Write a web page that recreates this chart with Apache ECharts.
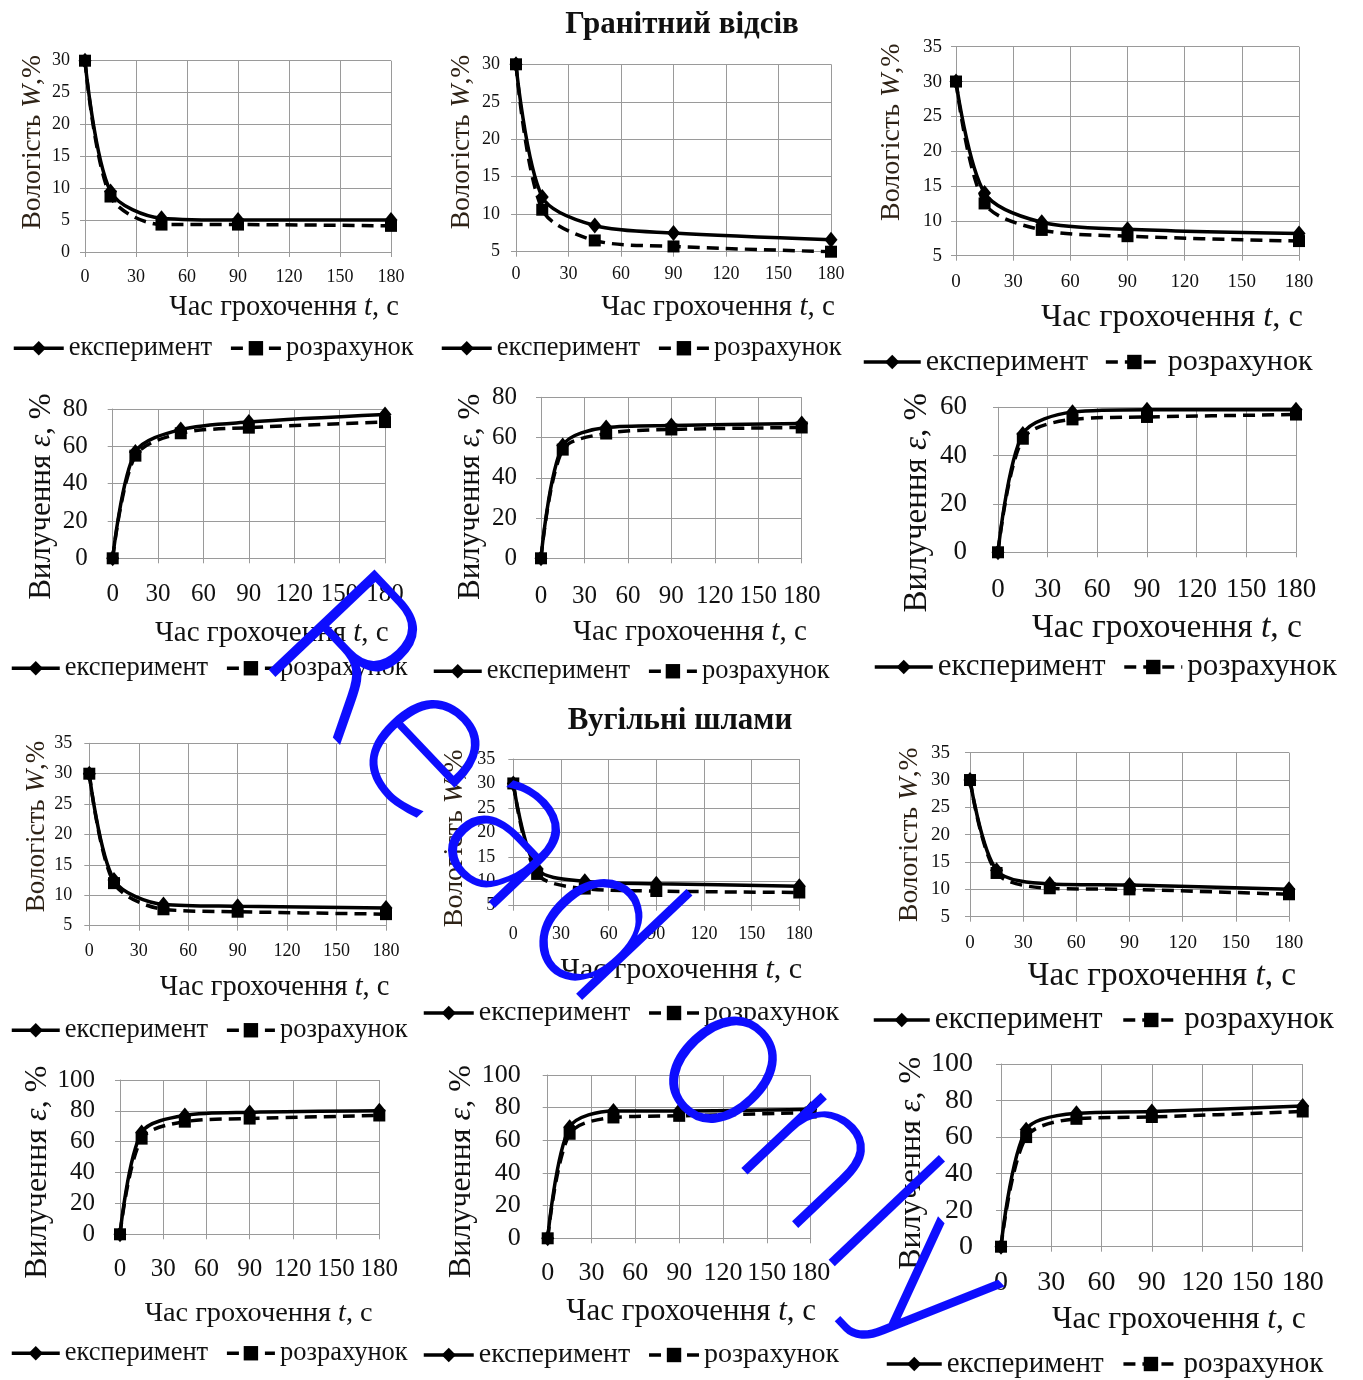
<!DOCTYPE html>
<html><head><meta charset="utf-8">
<script src="https://cdn.jsdelivr.net/npm/echarts@6/dist/echarts.min.js"></script>
<style>html,body{margin:0;padding:0;background:#fff}#c{width:1363px;height:1380px}</style>
</head><body><div id="c"></div>
<script>
// ---------- DATA ----------
const timeSec = [0, 15, 45, 90, 180];
const xTicks = [0, 30, 60, 90, 120, 150, 180];
const seriesNames = ['експеримент', 'розрахунок'];
const titleGranite = 'Гранітний відсів';
const titleCoal = 'Вугільні шлами';
const yNameW = 'Вологість {i|W},%';
const yNameE = 'Вилучення {i|ε}, %';
const xNameT = 'Час грохочення {i|t}, с';
const watermarkText = 'Read only';

// Гранітний відсів — вологість W, %
const gW1Exp = [30, 9.5, 5.3, 5.0, 5.0];
const gW1Calc = [30, 8.7, 4.3, 4.3, 4.1];
const gW2Exp = [30, 12.3, 8.5, 7.5, 6.6];
const gW2Calc = [30, 10.6, 6.5, 5.7, 5.0];
const gW3Exp = [30, 14.0, 9.8, 8.8, 8.2];
const gW3Calc = [30, 12.5, 8.7, 7.8, 7.1];
// Гранітний відсів — вилучення ε, %
const gE1Exp = [0, 57, 69, 73, 77];
const gE1Calc = [0, 55, 67, 70, 73];
const gE2Exp = [0, 56, 65, 66, 67];
const gE2Calc = [0, 54, 62, 64, 65];
const gE3Exp = [0, 49, 58, 59, 59];
const gE3Calc = [0, 47, 55, 56, 57];
// Вугільні шлами — вологість W, %
const cW1Exp = [30, 12.5, 8.5, 8.2, 7.9];
const cW1Calc = [30, 12.0, 7.7, 7.3, 6.9];
const cW2Exp = [30, 12.5, 10.0, 9.5, 9.0];
const cW2Calc = [30, 11.5, 8.5, 8.0, 7.7];
const cW3Exp = [30, 13.5, 11.0, 10.8, 10.0];
const cW3Calc = [30, 13.0, 10.2, 10.0, 9.1];
// Вугільні шлами — вилучення ε, %
const cE1Exp = [0, 66, 77, 79, 80];
const cE1Calc = [0, 62, 73, 75, 77];
const cE2Exp = [0, 68, 78, 78, 79];
const cE2Calc = [0, 64, 74, 75, 77];
const cE3Exp = [0, 64, 73, 74, 77];
const cE3Calc = [0, 60, 70, 71, 74];

// y tick labels
const yTicksW0_30 = [0, 5, 10, 15, 20, 25, 30];
const yTicksW5_30 = [5, 10, 15, 20, 25, 30];
const yTicksW5_35 = [5, 10, 15, 20, 25, 30, 35];
const yTicksE0_80 = [0, 20, 40, 60, 80];
const yTicksE0_60 = [0, 20, 40, 60];
const yTicksE0_100 = [0, 20, 40, 60, 80, 100];

const panels = [
  {exp: gW1Exp, calc: gW1Calc, ticks: yTicksW0_30, yName: yNameW},
  {exp: gW2Exp, calc: gW2Calc, ticks: yTicksW5_30, yName: yNameW},
  {exp: gW3Exp, calc: gW3Calc, ticks: yTicksW5_35, yName: yNameW},
  {exp: gE1Exp, calc: gE1Calc, ticks: yTicksE0_80, yName: yNameE},
  {exp: gE2Exp, calc: gE2Calc, ticks: yTicksE0_80, yName: yNameE},
  {exp: gE3Exp, calc: gE3Calc, ticks: yTicksE0_60, yName: yNameE},
  {exp: cW1Exp, calc: cW1Calc, ticks: yTicksW5_35, yName: yNameW},
  {exp: cW2Exp, calc: cW2Calc, ticks: yTicksW5_35, yName: yNameW},
  {exp: cW3Exp, calc: cW3Calc, ticks: yTicksW5_35, yName: yNameW},
  {exp: cE1Exp, calc: cE1Calc, ticks: yTicksE0_100, yName: yNameE},
  {exp: cE2Exp, calc: cE2Calc, ticks: yTicksE0_100, yName: yNameE},
  {exp: cE3Exp, calc: cE3Calc, ticks: yTicksE0_100, yName: yNameE}
];

// ---------- LAYOUT (pixels) ----------
const layout = [
  {x0:85, x1:391, y0:60.7, y1:252, tf:18, ylm:15, xlm:16, yng:52, yp:14, ynf:27.5, xng:56, xp:46, xnf:28.5, lgx:12, lgy:348, lgf:26.5, lgw:50, lgg:17},
  {x0:516, x1:831, y0:64.3, y1:251.7, tf:18, ylm:16, xlm:14, yng:54, yp:16, ynf:27.5, xng:56, xp:44.5, xnf:29, lgx:440, lgy:348, lgf:26.5, lgw:50, lgg:17},
  {x0:956, x1:1299, y0:46.7, y1:255.7, tf:19, ylm:14, xlm:17, yng:64, yp:19, ynf:28, xng:62, xp:44.5, xnf:32.5, lgx:862, lgy:362, lgf:30, lgw:57, lgg:16},
  {x0:112.7, x1:385, y0:409, y1:558.3, tf:25, ylm:25, xlm:24, yng:71, yp:-13, ynf:31, xng:75, xp:23, xnf:29, lgx:10, lgy:668, lgf:26.5, lgw:48, lgg:17},
  {x0:541, x1:801.7, y0:397.3, y1:558.3, tf:25, ylm:24, xlm:26, yng:70, yp:-19, ynf:31, xng:74, xp:18.6, xnf:29, lgx:432, lgy:671, lgf:26.5, lgw:48, lgg:17},
  {x0:998, x1:1296, y0:407.3, y1:552.3, tf:27, ylm:31, xlm:24, yng:81, yp:-23, ynf:33, xng:76, xp:20, xnf:33.5, lgx:873, lgy:667, lgf:31, lgw:58, lgg:17},
  {x0:89.3, x1:386, y0:743.3, y1:925.7, tf:18, ylm:17, xlm:17, yng:49, yp:8, ynf:27, xng:62, xp:37, xnf:28.5, lgx:10, lgy:1030, lgf:26.5, lgw:48, lgg:17},
  {x0:513.3, x1:799.3, y0:759, y1:905.7, tf:18, ylm:18, xlm:20, yng:59, yp:-6, ynf:28, xng:64, xp:25, xnf:30, lgx:422, lgy:1013, lgf:28, lgw:50, lgg:17},
  {x0:970, x1:1289, y0:752.7, y1:916.7, tf:19, ylm:20, xlm:17, yng:60, yp:0, ynf:27.5, xng:60, xp:32.5, xnf:33.3, lgx:872, lgy:1020, lgf:31, lgw:56, lgg:19},
  {x0:120, x1:379.3, y0:1080, y1:1234.3, tf:25, ylm:25, xlm:23, yng:79, yp:-15, ynf:32, xng:79, xp:9, xnf:28.3, lgx:10, lgy:1353, lgf:26.5, lgw:48, lgg:17},
  {x0:547.7, x1:810.7, y0:1075, y1:1238.3, tf:26, ylm:27, xlm:22, yng:85, yp:-15, ynf:32, xng:74, xp:12, xnf:31, lgx:422, lgy:1355, lgf:28, lgw:50, lgg:17},
  {x0:1001, x1:1302.7, y0:1064, y1:1246.7, tf:28, ylm:28, xlm:22, yng:88, yp:-8, ynf:32, xng:73, xp:27, xnf:31.5, lgx:885, lgy:1364, lgf:29, lgw:55, lgg:18}
];

const FONT = '"Liberation Serif", "Times New Roman", serif';
const GRID = '#9a9a9a';
const grid = [], xAxis = [], yAxis = [], series = [], legend = [];

panels.forEach((p, i) => {
  const g = layout[i];
  grid.push({left: g.x0, top: g.y0, width: g.x1 - g.x0, height: g.y1 - g.y0,
    containLabel: false, outerBoundsMode: 'none', show: false});
  xAxis.push({
    type: 'value', gridIndex: i,
    min: xTicks[0], max: xTicks[xTicks.length - 1], interval: xTicks[1] - xTicks[0],
    name: xNameT, nameLocation: 'middle', nameGap: g.xng,
    nameTextStyle: {fontFamily: FONT, fontSize: g.xnf, color: '#111', verticalAlign: 'middle',
      padding: [0, 0, 0, g.xp * 2],
      rich: {i: {fontFamily: FONT, fontSize: g.xnf, fontStyle: 'italic', color: '#111'}}},
    axisLine: {show: true, lineStyle: {color: GRID, width: 1}},
    axisTick: {show: true, length: 5, lineStyle: {color: GRID}},
    axisLabel: {fontFamily: FONT, fontSize: g.tf, color: '#111', margin: g.xlm, hideOverlap: false},
    splitLine: {show: true, lineStyle: {color: GRID, width: 1}}
  });
  const t = p.ticks;
  const ypad = g.yp >= 0 ? [0, 0, 0, g.yp * 2] : [0, -g.yp * 2, 0, 0];
  const ycol = p.yName === yNameW ? '#2e2216' : '#111';
  yAxis.push({
    type: 'value', gridIndex: i,
    min: t[0], max: t[t.length - 1], interval: t[1] - t[0],
    name: p.yName, nameLocation: 'middle', nameGap: g.yng, nameRotate: 90,
    nameTextStyle: {fontFamily: FONT, fontSize: g.ynf, color: ycol,
      verticalAlign: 'middle', padding: ypad,
      rich: {i: {fontFamily: FONT, fontSize: g.ynf, fontStyle: 'italic', color: ycol}}},
    axisLine: {show: true, lineStyle: {color: GRID, width: 1}},
    axisTick: {show: true, length: 5, lineStyle: {color: GRID}},
    axisLabel: {fontFamily: FONT, fontSize: g.tf, color: '#111', margin: g.ylm},
    splitLine: {show: true, lineStyle: {color: GRID, width: 1}}
  });
  series.push({
    type: 'line', name: seriesNames[0], xAxisIndex: i, yAxisIndex: i,
    data: timeSec.map((s, k) => [s, p.exp[k]]),
    smooth: 0.3, symbol: 'diamond', symbolSize: [13, 16],
    lineStyle: {color: '#000', width: 3.5}, itemStyle: {color: '#000'}, z: 3
  });
  series.push({
    type: 'line', name: seriesNames[1], xAxisIndex: i, yAxisIndex: i,
    data: timeSec.map((s, k) => [s, p.calc[k]]),
    smooth: 0.3, symbol: 'rect', symbolSize: 12,
    lineStyle: {color: '#000', width: 3.5, type: [12, 7]}, itemStyle: {color: '#000'}, z: 4
  });
  legend.push({
    data: seriesNames, left: g.lgx, top: g.lgy - g.lgf / 2, orient: 'horizontal',
    padding: 0, itemGap: g.lgg, itemWidth: g.lgw, itemHeight: 18, selectedMode: false,
    lineStyle: {width: 3.5},
    textStyle: {fontFamily: FONT, fontSize: g.lgf, color: '#111'}
  });
});

const chart = echarts.init(document.getElementById('c'), null, {renderer: 'canvas'});
chart.setOption({
  animation: false,
  backgroundColor: '#fff',
  title: [
    {text: titleGranite, left: 677, textAlign: 'center', top: 4, textStyle: {fontFamily: FONT, fontSize: 31, fontWeight: 'bold', color: '#111'}},
    {text: titleCoal, left: 675, textAlign: 'center', top: 700, textStyle: {fontFamily: FONT, fontSize: 31, fontWeight: 'bold', color: '#111'}}
  ],
  grid, xAxis, yAxis, series, legend,
  graphic: [{
    type: 'text', x: 630, y: 975, rotation: -46.5 * Math.PI / 180, z: 100, silent: true,
    style: {text: watermarkText, fontSize: 200, fontFamily: '"DejaVu Sans ExtraLight", "DejaVu Sans", sans-serif',
      fontWeight: 200, fill: '#0d0dff', align: 'center', verticalAlign: 'middle'}
  }]
});
</script></body></html>
